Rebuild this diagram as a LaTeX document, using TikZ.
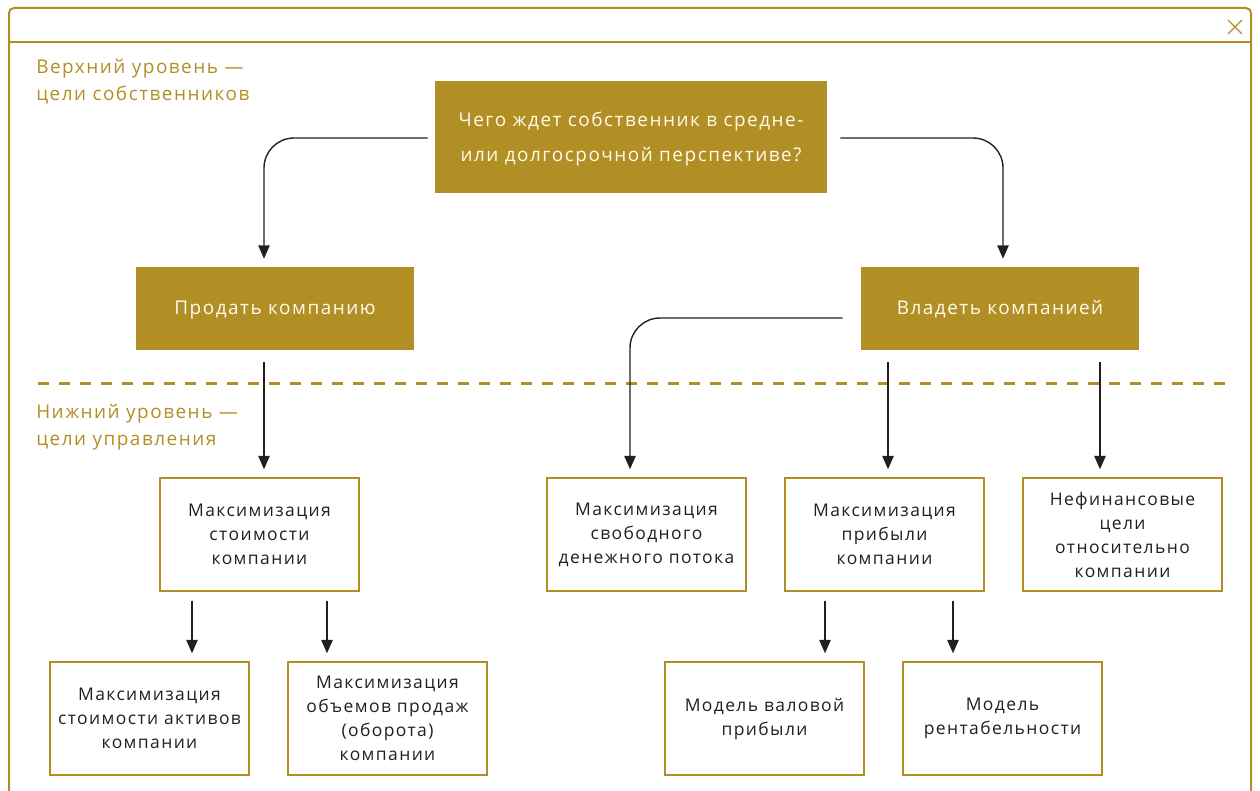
\documentclass[tikz,border=0pt]{standalone}
\usepackage{fontspec}
\setmainfont{Open Sans}[LetterSpace=8]
\usetikzlibrary{arrows.meta,calc}
\newdimen\px \px=0.75pt
\definecolor{gold}{RGB}{178,143,36}
\definecolor{ink}{RGB}{35,31,32}
\definecolor{cream}{RGB}{255,250,235}
\begin{document}
\begin{tikzpicture}[x=0.75pt,y=-0.75pt,
  goldbox/.style={fill=gold,draw=none,text=cream,align=center,text depth=1pt,font=\fontsize{14.2}{19}\selectfont},
  whitebox/.style={draw=gold,line width=1.1pt,fill=white,text=ink,align=center,
     minimum width=199\px,minimum height=113\px,inner sep=0pt,font=\fontsize{13.1}{18}\selectfont},
  lvl/.style={text=gold,align=left,anchor=north west,inner sep=0pt,font=\fontsize{14.2}{20}\selectfont},
  arr/.style={draw=ink,line width=1.05pt,-{Triangle[length=10pt,width=8.5pt]}},
  frame/.style={draw=gold,line width=1.5pt}]
\useasboundingbox (0,0) rectangle (1260,791);
% outer frame
\draw[frame,rounded corners=5\px] (9,795) -- (9,8) -- (1251,8) -- (1251,795);
\draw[frame] (9,42) -- (1251,42);
\draw[draw=gold,line width=1pt] (1228,20) -- (1242,34) (1242,20) -- (1228,34);
% level labels
\node[lvl] (top) at (36,59) {Верхний уровень —\\цели собственников};
\node[lvl] (low) at (36,404) {Нижний уровень —\\цели управления};
% separator
\draw[draw=gold,line width=2.25pt,dash pattern=on 11\px off 10\px] (38,384) -- (1225,384);
% gold boxes
\node[goldbox,minimum width=392\px,minimum height=112\px,font=\fontsize{14.2}{26}\selectfont] (q) at (631,137.5) {Чего ждет собственник в средне-\\или долгосрочной перспективе?};
\node[goldbox,minimum width=278\px,minimum height=83\px] (sell) at (275,308.5) {Продать компанию};
\node[goldbox,minimum width=278\px,minimum height=83\px] (own) at (1000,308.5) {Владеть компанией};
% white boxes
\node[whitebox] (A) at (259.5,534.5) {Максимизация\\стоимости\\компании};
\node[whitebox] (B) at (646.5,534.5) {Максимизация\\свободного\\денежного потока};
\node[whitebox] (C) at (884.5,534.5) {Максимизация\\прибыли\\компании};
\node[whitebox] (D) at (1122.5,534.5) {Нефинансовые\\цели\\относительно\\компании};
\node[whitebox] (E) at (149.5,718.5) {Максимизация\\стоимости активов\\компании};
\node[whitebox] (F) at (387.5,718.5) {Максимизация\\объемов продаж\\(оборота)\\компании};
\node[whitebox] (G) at (764.5,718.5) {Модель валовой\\прибыли};
\node[whitebox] (H) at (1002.5,718.5) {Модель\\рентабельности};
% connectors
\draw[arr,rounded corners=30\px] ($(q.west)+(-7,0.5)$) -| ($(sell.north)+(-11,-8)$);
\draw[arr,rounded corners=30\px] ($(q.east)+(13,0.5)$) -| ($(own.north)+(3,-8)$);
\draw[arr,rounded corners=30\px] ($(own.west)+(-18,9.5)$) -| ($(B.north)+(-16.5,-8)$);
\draw[arr] ($(own.south)+(-112,12)$) -- ($(C.north)+(3.5,-8)$);
\draw[arr] ($(own.south)+(100,12)$) -- ($(D.north)+(-22.5,-8)$);
\draw[arr] ($(sell.south)+(-11,12)$) -- ($(A.north)+(4.5,-8)$);
\draw[arr] ($(A.south)+(-67.5,9)$) -- ($(E.north)+(42.5,-8)$);
\draw[arr] ($(A.south)+(67.5,9)$) -- ($(F.north)+(-60.5,-8)$);
\draw[arr] ($(C.south)+(-59.5,9)$) -- ($(G.north)+(60.5,-8)$);
\draw[arr] ($(C.south)+(68.5,9)$) -- ($(H.north)+(-49.5,-8)$);
\end{tikzpicture}
\end{document}
